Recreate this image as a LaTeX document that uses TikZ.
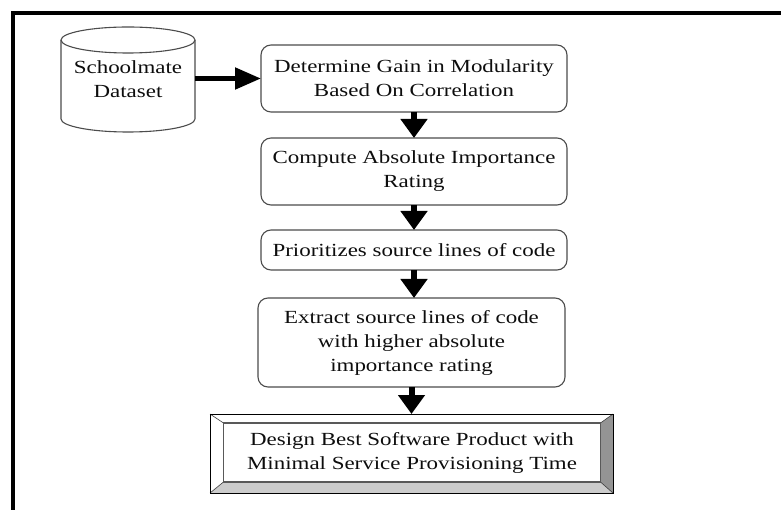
\documentclass[tikz,border=0pt]{standalone}
\usepackage{fontspec}
\setmainfont{Liberation Serif}[FakeStretch=1.24]
\usetikzlibrary{arrows.meta}
\tikzset{
  txt/.style={font=\fontsize{18.5}{24}\selectfont,text=black!95,align=center,inner sep=0pt,outer sep=0pt},
  stepbox/.style={txt,draw=black!70,line width=1.1pt,rounded corners=10pt,minimum width=306pt},
  bigarrow/.style={-{Triangle[width=26pt,length=19pt]},line width=6pt,black},
}
\begin{document}
\begin{tikzpicture}[x=1pt,y=-1pt]
	\useasboundingbox(0,0)rectangle(781,510);
	\draw[line width=4pt](13,510)--(13,13)--(781,13);
	% dataset drum
	\node[txt,minimum width=134pt,minimum height=105pt](data) at (128,79.5){Schoolmate\\Dataset};
	\draw[black!70,line width=1.1pt]([yshift=-13pt]data.north west)--([yshift=13pt]data.south west)arc[start angle=180,end angle=360,x radius=67pt,y radius=13pt]--([yshift=-13pt]data.north east);
	\draw[black!70,line width=1.1pt]([yshift=-13pt]data.north)ellipse[x radius=67pt,y radius=13pt];
	\node[stepbox,minimum height=67pt](gain) at (414,78.5){Determine Gain in Modularity\\Based On Correlation};
	\node[stepbox,minimum height=67pt](rate) at (414,171.5){Compute Absolute Importance\\Rating};
	\node[stepbox,minimum height=40pt](prio) at (414,250){Prioritizes source lines of code};
	\node[stepbox,minimum height=89pt,minimum width=307pt](extr) at (411.5,342.5){Extract source lines of code\\with higher absolute\\importance rating};
	% bevelled box
	\node[draw=black,line width=.8pt,minimum width=403pt,minimum height=79pt,inner sep=0pt,outer sep=0pt](design) at (411.5,453.5){};
	\node[txt,minimum width=377pt,minimum height=59pt](designin) at (412,452.5){Design Best Software Product with\\Minimal Service Provisioning Time};
	\fill[black!20](design.south west)--(designin.south west)--(designin.south east)--(design.south east)--cycle;
	\fill[black!42](design.south east)--(designin.south east)--(designin.north east)--(design.north east)--cycle;
	\draw[black!75,line width=.6pt](design.north west)--(designin.north west) (design.south west)--(designin.south west) (design.north east)--(designin.north east) (design.south east)--(designin.south east);
	\draw[black!65,line width=1.6pt](designin.south west)rectangle(designin.north east);
	\draw[black,line width=.8pt](design.south west)rectangle(design.north east);
	% arrows
	\draw[bigarrow,line width=5pt,-{Triangle[width=21pt,length=26pt]}](data.east|-gain.west)--(gain.west);
	\draw[bigarrow](gain)--(rate);
	\draw[bigarrow](rate)--(prio);
	\draw[bigarrow](prio.south)--(prio.south|-extr.north);
	\draw[bigarrow](extr)--(design);
\end{tikzpicture}
\end{document}
